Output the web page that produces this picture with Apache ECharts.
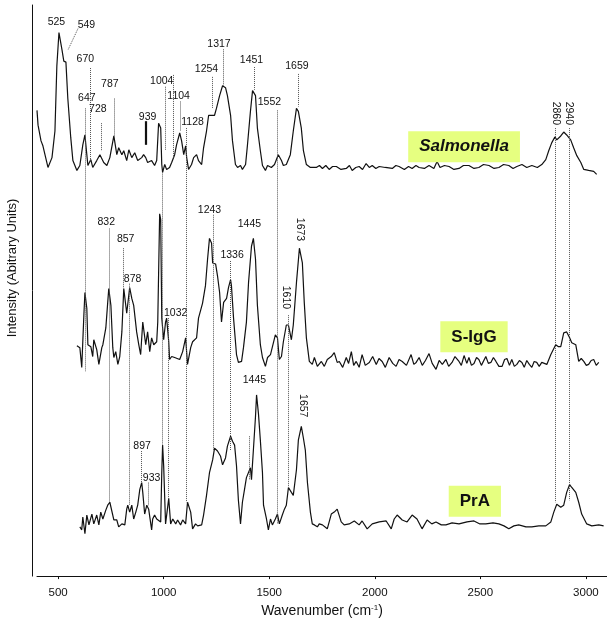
<!DOCTYPE html>
<html>
<head>
<meta charset="utf-8">
<script src="https://cdn.jsdelivr.net/npm/echarts@6/dist/echarts.min.js"></script>
<style>html,body{margin:0;padding:0;background:#fff}#c{width:607px;height:623px}</style>
</head>
<body>
<div id="c"></div>
<script>
// Spectra: [wavenumber, intensity above the trace's own offset]
const salmonella = [[400,73],[405,58],[419,42],[428,37],[452,15],[471,25],[485,52],[494,118],[504,152],[518,135],[527,123],[537,122],[546,85],[560,45],[570,22],[579,20],[589,12],[603,17],[612,18],[617,38],[627,48],[636,28],[641,17],[655,23],[664,15],[683,22],[698,28],[707,30],[716,20],[731,17],[745,25],[764,47],[778,28],[787,35],[802,28],[811,32],[825,22],[835,33],[849,25],[863,30],[877,22],[896,25],[905,28],[915,25],[924,20],[943,22],[957,17],[967,22],[976,60],[981,62],[986,55],[991,18],[995,10],[1005,18],[1014,13],[1019,12],[1028,15],[1038,20],[1052,28],[1061,38],[1076,50],[1085,42],[1095,28],[1104,37],[1109,25],[1118,13],[1132,18],[1142,25],[1156,28],[1165,22],[1180,18],[1189,35],[1203,52],[1213,68],[1227,68],[1241,68],[1250,75],[1265,88],[1279,98],[1293,96],[1302,88],[1317,68],[1326,42],[1340,18],[1350,15],[1364,17],[1373,13],[1388,18],[1397,38],[1411,72],[1421,93],[1435,88],[1444,55],[1458,32],[1468,17],[1482,12],[1492,17],[1510,15],[1525,18],[1534,20],[1543,28],[1558,22],[1567,17],[1581,18],[1600,28],[1614,52],[1629,75],[1638,72],[1652,55],[1662,32],[1676,18],[1695,15],[1704,13],[1723,15],[1738,17],[1752,14],[1768,17],[1784,13],[1800,16],[1818,16],[1840,13],[1865,14],[1880,17],[1893,12],[1910,15],[1926,16],[1942,13],[1959,19],[1974,15],[1988,17],[2005,14],[2021,16],[2050,15],[2083,14],[2100,17],[2115,16],[2140,13],[2160,16],[2177,14],[2195,17],[2210,15],[2235,14],[2257,17],[2280,14],[2295,21],[2309,15],[2330,17],[2352,16],[2375,13],[2399,14],[2420,17],[2446,17],[2470,14],[2493,15],[2515,18],[2541,17],[2565,14],[2588,15],[2610,18],[2635,17],[2655,14],[2673,16],[2697,18],[2720,15],[2744,17],[2770,15],[2791,18],[2810,23],[2824,32],[2838,40],[2853,46],[2862,43],[2881,47],[2895,51],[2909,48],[2928,43],[2942,35],[2957,27],[2976,20],[2990,13],[3013,12],[3037,11],[3051,8]];

const sIgG = [[589,34],[603,32],[612,12],[622,65],[627,88],[636,72],[641,35],[655,33],[664,23],[669,40],[683,30],[693,15],[707,32],[712,35],[726,52],[735,78],[740,92],[750,75],[759,32],[764,22],[773,28],[783,15],[792,23],[802,48],[811,92],[825,67],[839,93],[849,82],[858,75],[872,48],[882,35],[891,25],[901,58],[915,35],[924,48],[934,28],[943,42],[953,35],[967,38],[972,58],[981,168],[986,162],[991,62],[1000,40],[1009,58],[1014,62],[1024,38],[1028,20],[1038,23],[1052,22],[1061,23],[1076,20],[1090,28],[1104,42],[1113,15],[1128,32],[1137,38],[1156,42],[1165,62],[1184,77],[1198,95],[1208,122],[1217,143],[1227,138],[1232,118],[1246,117],[1255,105],[1265,88],[1274,58],[1284,78],[1298,82],[1307,93],[1317,101],[1321,95],[1331,62],[1345,25],[1354,17],[1369,18],[1378,32],[1392,58],[1402,98],[1416,135],[1425,143],[1435,122],[1444,75],[1458,35],[1468,22],[1482,13],[1492,22],[1506,25],[1515,23],[1529,45],[1539,42],[1548,20],[1558,23],[1567,38],[1581,55],[1591,55],[1605,40],[1614,55],[1629,98],[1643,133],[1657,118],[1666,78],[1676,42],[1690,18],[1704,15],[1714,22],[1728,13],[1747,18],[1761,13],[1775,20],[1794,23],[1808,27],[1822,17],[1832,18],[1848,12],[1865,22],[1876,16],[1889,28],[1900,14],[1912,18],[1926,12],[1940,25],[1955,14],[1974,17],[1990,23],[2007,15],[2020,21],[2035,18],[2050,12],[2068,22],[2085,16],[2101,13],[2115,20],[2130,18],[2150,14],[2172,25],[2185,15],[2196,17],[2210,22],[2225,14],[2240,19],[2257,26],[2272,16],[2290,10],[2305,19],[2320,15],[2337,20],[2350,13],[2366,17],[2380,23],[2399,18],[2410,14],[2423,24],[2436,16],[2446,22],[2458,14],[2470,16],[2482,22],[2493,20],[2505,14],[2526,23],[2538,16],[2550,17],[2562,22],[2574,18],[2588,13],[2603,13],[2615,20],[2626,21],[2638,14],[2649,20],[2661,13],[2673,15],[2685,19],[2697,17],[2708,12],[2720,19],[2732,15],[2744,12],[2755,18],[2767,17],[2779,13],[2791,17],[2815,15],[2834,25],[2857,35],[2870,33],[2881,33],[2895,47],[2909,48],[2923,42],[2933,37],[2952,35],[2966,18],[2978,21],[2990,18],[3002,14],[3013,15],[3025,19],[3037,20],[3049,14],[3061,17]];

const prA = [[603,10],[612,7],[617,20],[627,3],[636,22],[646,12],[660,23],[669,13],[683,22],[693,12],[702,25],[712,18],[726,27],[735,32],[745,35],[754,33],[764,17],[778,17],[787,10],[802,13],[816,12],[825,28],[830,32],[839,25],[849,32],[858,18],[868,25],[877,32],[887,48],[896,55],[901,45],[910,23],[920,32],[929,28],[943,7],[948,18],[957,22],[967,18],[976,20],[986,15],[991,65],[995,93],[1000,72],[1009,13],[1014,15],[1024,39],[1033,13],[1043,18],[1057,13],[1066,17],[1080,12],[1090,17],[1104,13],[1113,35],[1128,25],[1137,8],[1151,13],[1161,11],[1180,12],[1189,22],[1203,42],[1217,65],[1232,78],[1241,90],[1255,87],[1269,82],[1279,73],[1293,80],[1302,92],[1317,102],[1326,97],[1336,93],[1345,72],[1354,37],[1364,13],[1373,35],[1383,48],[1392,60],[1397,58],[1411,70],[1416,58],[1425,88],[1435,122],[1440,144],[1449,125],[1458,98],[1468,65],[1473,32],[1487,18],[1496,7],[1506,18],[1515,12],[1529,18],[1539,23],[1548,13],[1562,22],[1572,28],[1581,32],[1591,50],[1605,45],[1614,42],[1629,68],[1638,98],[1652,112],[1662,100],[1671,88],[1681,55],[1695,25],[1704,13],[1714,12],[1728,10],[1737,13],[1752,12],[1761,13],[1775,8],[1794,23],[1808,25],[1822,28],[1841,15],[1855,12],[1879,13],[1903,16],[1926,12],[1940,16],[1964,8],[1988,13],[2021,15],[2054,16],[2078,8],[2092,18],[2106,22],[2130,17],[2153,15],[2177,22],[2200,18],[2224,8],[2248,17],[2270,13],[2290,15],[2315,12],[2337,12],[2366,14],[2399,13],[2437,15],[2470,16],[2498,13],[2526,13],[2560,14],[2588,13],[2612,11],[2635,8],[2659,11],[2682,12],[2716,10],[2744,10],[2777,11],[2810,11],[2834,15],[2848,25],[2862,33],[2881,30],[2895,32],[2909,45],[2923,53],[2933,50],[2952,45],[2966,35],[2980,23],[3004,13],[3028,11],[3061,12],[3084,11]];

const SAL_OFFSET = 400, SIG_OFFSET = 200, PRA_OFFSET = 40;

// Tick labels
const xTicks = [500, 1000, 1500, 2000, 2500, 3000];

// Peak labels: text and where they sit (wavenumber, plotted value)
const peakText = ['525','549','670','647','728','787','939','1004','1104','1128','1254','1317','1451','1552','1659','2860','2940','832','857','878','1032','1243','1336','1445','1610','1673','1445','897','933','1657'];
const peakWn   = [492,634,629,636,688,745,924,991,1071,1137,1203,1262,1416,1501,1631,2857,2919,728,820,853,1057,1217,1324,1406,1579,1647,1430,898,943,1659];
const peakVal  = [563,560,525,485,474,500,466,503,487,461,515,540,524,481,518,470,470,359,342,302,267,372,326,357,283,352,199,132,100,173];
const verticalPeaks = ['2860','2940','1610','1673','1657'];

// Dotted guide lines: [wn1, val1, wn2, val2]
const guides = [[594,556,546,534],[654,516,654,422],[627,475,627,208],[702,460,702,432],[764,485,764,447],[1008,497,1008,433],[1047,509,1047,425],[991,410,991,133],[1077,482,1077,452],[1109,455,1109,75],[1228,507,1228,475],[1284,535,1284,498],[1427,517,1427,494],[1537,473,1537,53],[1638,510,1638,477],[2857,455,2857,75],[2919,455,2919,77],[742,353,742,75],[809,333,809,292],[839,297,839,72],[1021,262,1021,78],[1233,367,1233,128],[1317,320,1317,127],[1591,265,1591,90],[1406,142,1406,98],[895,127,895,95],[929,95,929,72]];
const solidGuides = [[914,462,914,438]];

// Sample name boxes
const sampleNames = ['Salmonella','S-IgG','PrA'];
const sampleWn = [2423,2470,2474];
const sampleVal = [436,243,76];

const FONT = 'Liberation Sans, Arial, Helvetica, sans-serif';
const shift = (arr, off) => arr.map(p => [p[0], p[1] + off]);

const lineData = guides.map(g => [{coord:[g[0],g[1]]},{coord:[g[2],g[3]]}])
  .concat(solidGuides.map(g => [{coord:[g[0],g[1]], lineStyle:{type:'solid', width:2.2, color:'#111'}},{coord:[g[2],g[3]]}]));

const pointData = peakText.map((t,i) => ({
  coord:[peakWn[i], peakVal[i]],
  label:{formatter:t, rotate: verticalPeaks.includes(t) ? -90 : 0}
})).concat(sampleNames.map((n,i) => ({
  coord:[sampleWn[i], sampleVal[i]],
  label:{formatter:n, fontSize:17, fontWeight:'bold', fontStyle: i===0 ? 'italic' : 'normal',
         backgroundColor:'#e6ff80', padding:[6,11,6,11], lineHeight:19, color:'#111'}
})));

const base = {type:'line', showSymbol:false, symbol:'none', smooth:false,
  lineStyle:{color:'#111', width:1.2}, itemStyle:{color:'#111'}, silent:true, animation:false, z:3};

const chart = echarts.init(document.getElementById('c'), null, {renderer:'canvas'});
chart.setOption({
  animation:false,
  backgroundColor:'#fff',
  grid:{left:37, right:0, top:5, bottom:38},
  xAxis:{type:'value', min:400, max:3100,
    axisLine:{show:true, lineStyle:{color:'#111', width:1}},
    axisTick:{show:true, length:3, lineStyle:{color:'#111'}, customValues:xTicks},
    axisLabel:{customValues:xTicks, formatter: v => String(v), fontSize:11.5, color:'#111', fontFamily:FONT, margin:11},
    splitLine:{show:false},
    name:'Wavenumber (cm{sup|-1})', nameLocation:'middle', nameGap:22,
    nameTextStyle:{fontSize:14, color:'#111', fontFamily:FONT,
      rich:{sup:{fontSize:8, verticalAlign:'top', padding:[0,0,6,0], color:'#111', fontFamily:FONT}}}
  },
  yAxis:{type:'value', min:0, max:580, offset:5,
    axisLine:{show:true, lineStyle:{color:'#111', width:1}},
    axisTick:{show:false}, axisLabel:{show:false}, splitLine:{show:false}},
  graphic:[{type:'text', x:12, y:268, rotation:Math.PI/2, silent:true,
    style:{text:'Intensity (Abitrary Units)', fill:'#111', font:'13px ' + FONT, textAlign:'center', textVerticalAlign:'middle'}}],
  series:[
    Object.assign({}, base, {name:'Salmonella', data:shift(salmonella, SAL_OFFSET),
      markLine:{silent:true, symbol:['none','none'], label:{show:false}, animation:false,
        lineStyle:{type:'dotted', color:'#555', width:1}, data:lineData},
      markPoint:{silent:true, symbol:'circle', symbolSize:0, animation:false,
        label:{show:true, position:'inside', color:'#111', fontSize:10.5, fontFamily:FONT},
        data:pointData}}),
    Object.assign({}, base, {name:'S-IgG', data:shift(sIgG, SIG_OFFSET)}),
    Object.assign({}, base, {name:'PrA', data:shift(prA, PRA_OFFSET)})
  ]
});
</script>
</body>
</html>
